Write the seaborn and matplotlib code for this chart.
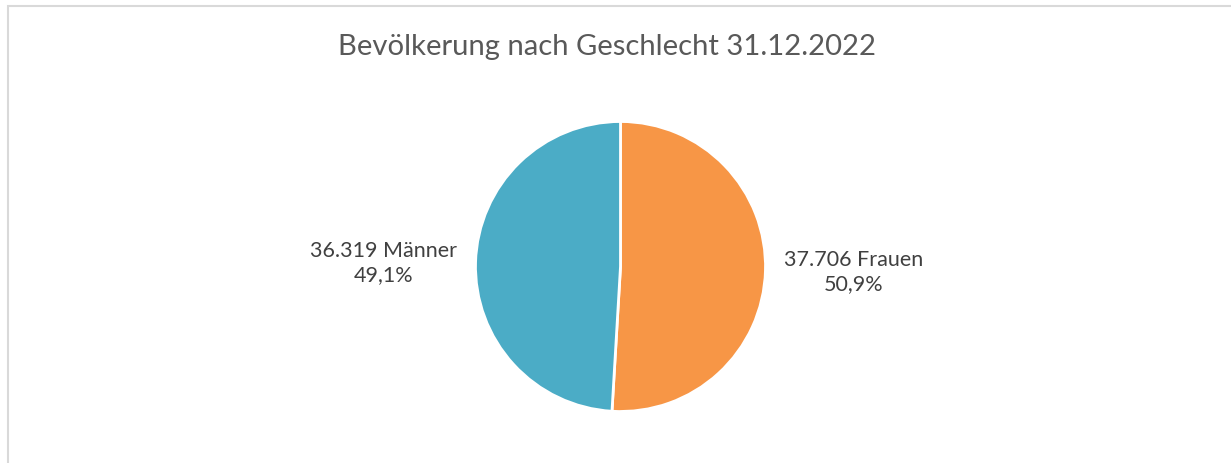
import matplotlib
matplotlib.use("Agg")
import matplotlib.pyplot as plt
import seaborn as sns
from matplotlib.patches import Rectangle

# data
categories = ["Frauen", "Männer"]
values = [37706, 36319]
shares = ["50,9%", "49,1%"]
colors = ["#F79646", "#4BACC6"]
title = "Bevölkerung nach Geschlecht 31.12.2022"

sns.set_theme(style="white")
plt.rcParams['font.family'] = ['Lato', 'DejaVu Sans']

W, H = 1231, 464
fig = plt.figure(figsize=(W / 100, H / 100), dpi=100)
fig.patch.set_facecolor("white")

# outer chart frame (continues past right/bottom edge)
fig.patches.append(Rectangle((7.5 / W, -0.1), 1.2, 1.1 - 7.5 / H, transform=fig.transFigure,
                             fill=False, edgecolor="#D9D9D9", linewidth=1.5))

# pie axes: centre (620, 267), radius ~145 px
cx, cy, r = 620.5, 267.5, 145
ax = fig.add_axes([(cx - r) / W, 1 - (cy + r) / H, 2 * r / W, 2 * r / H])

labels = [f"{v:,}".replace(",", ".") + f" {c}\n{s}" for c, v, s in zip(categories, values, shares)]
wedges, texts = ax.pie(values, colors=colors, startangle=90, counterclock=False,
                       labels=labels, labeldistance=1.13,
                       wedgeprops=dict(edgecolor="white", linewidth=2),
                       textprops=dict(color="#404040", fontsize=15.5, multialignment="center",
                                      linespacing=1.25))
ax.set_xlim(-1, 1)
ax.set_ylim(-1, 1)
ax.set_aspect("equal")
ax.axis("off")

fig.text(607 / W, 1 - 47 / H, title, ha="center", va="center", fontsize=21.1, color="#595959")

fig.savefig("out.png", dpi=100, facecolor="white")
